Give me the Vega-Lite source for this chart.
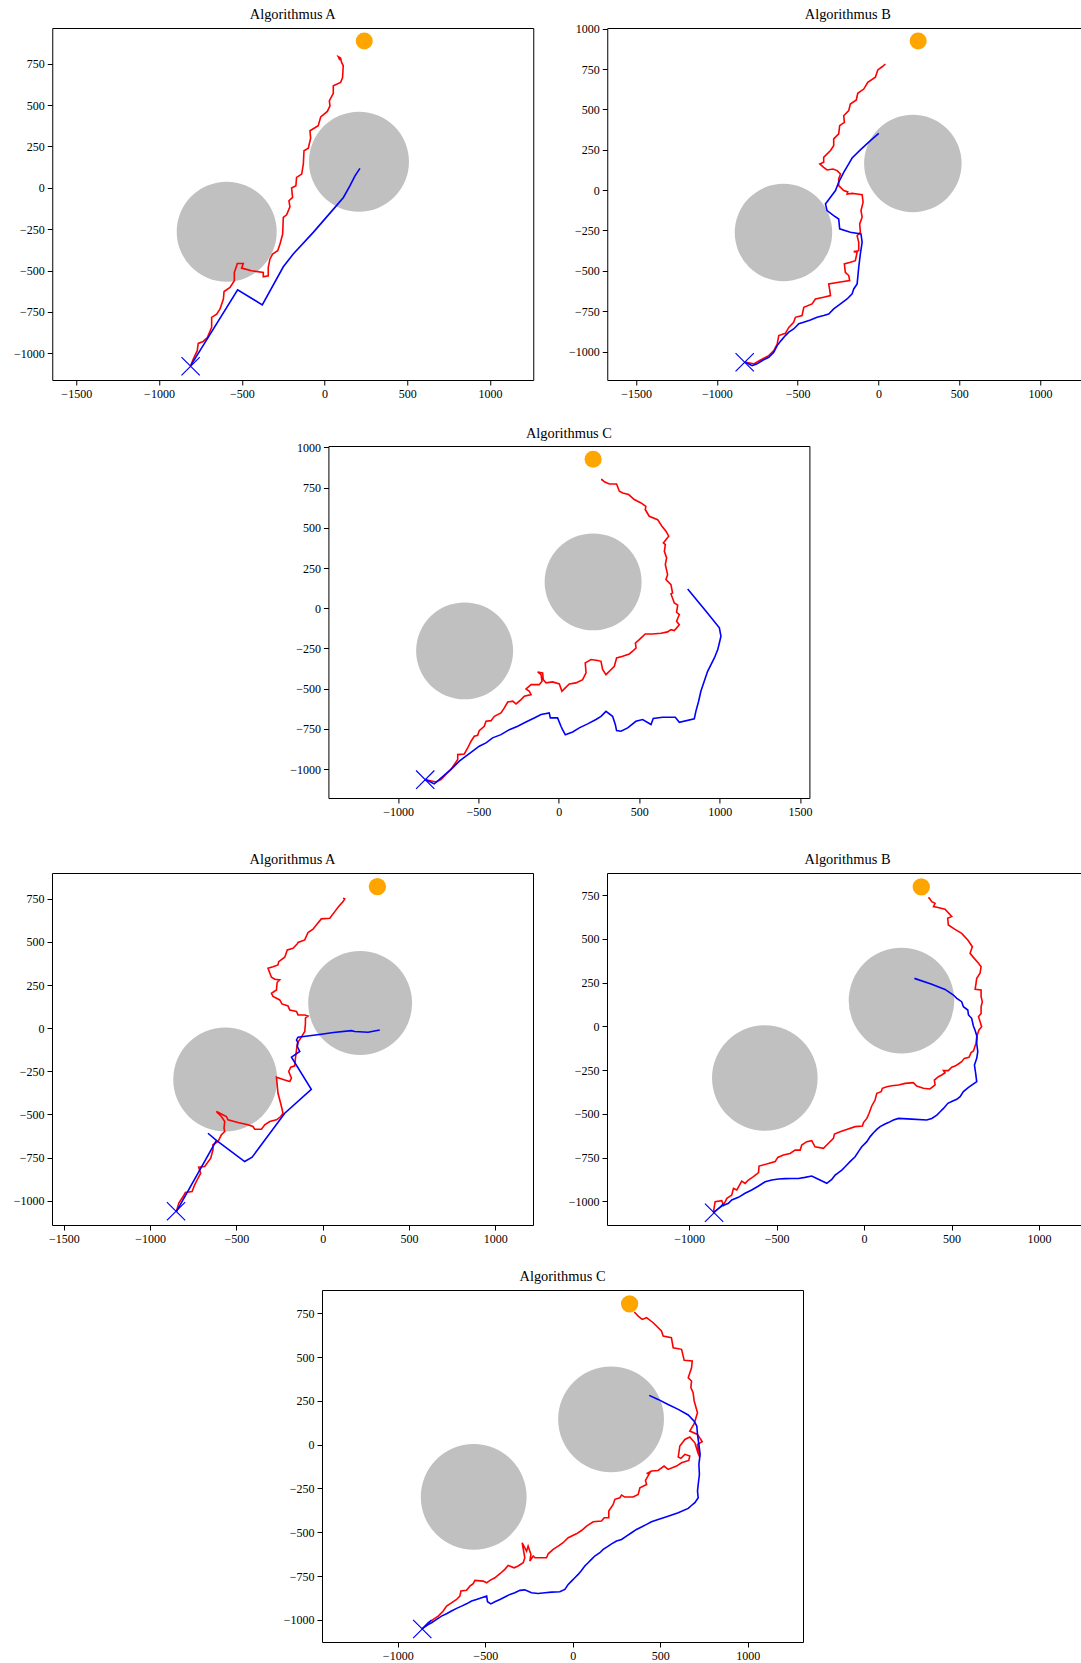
{
"$schema": "https://vega.github.io/schema/vega-lite/v6.json",
"padding": {"left": 12, "top": 6, "right": 0, "bottom": 0},
"background": "white",
"config": {
  "font": "Liberation Serif",
  "view": {"stroke": "black", "strokeWidth": 1},
  "axis": {"grid": false, "domain": false, "ticks": true, "tickColor": "black", "tickSize": 5, "tickWidth": 1, "labelFont": "Liberation Serif", "labelFontSize": 12, "labelColor": "black", "labelPadding": 3, "format": "d", "labelFlush": false, "labelOverlap": false},
  "title": {"font": "Liberation Serif", "fontSize": 14.4, "fontWeight": "normal", "color": "black", "offset": 6}
},
"datasets": {
"a1": [
{"k":"o","x":-591,"y":-265},{"k":"o","x":208,"y":158},
{"k":"r","x":-809,"y":-1075},{"k":"r","x":-793,"y":-1035},{"k":"r","x":-769,"y":-984},{"k":"r","x":-763,"y":-940},{"k":"r","x":-733,"y":-928},{"k":"r","x":-708,"y":-904},{"k":"r","x":-682,"y":-843},{"k":"r","x":-682,"y":-783},{"k":"r","x":-652,"y":-763},{"k":"r","x":-632,"y":-733},{"k":"r","x":-611,"y":-672},{"k":"r","x":-607,"y":-626},{"k":"r","x":-571,"y":-602},{"k":"r","x":-545,"y":-561},{"k":"r","x":-545,"y":-511},{"k":"r","x":-531,"y":-470},{"k":"r","x":-527,"y":-457},{"k":"r","x":-491,"y":-457},{"k":"r","x":-501,"y":-485},{"k":"r","x":-441,"y":-501},{"k":"r","x":-370,"y":-511},{"k":"r","x":-370,"y":-537},{"k":"r","x":-340,"y":-531},{"k":"r","x":-340,"y":-481},{"k":"r","x":-330,"y":-431},{"k":"r","x":-314,"y":-400},{"k":"r","x":-283,"y":-380},{"k":"r","x":-269,"y":-340},{"k":"r","x":-253,"y":-279},{"k":"r","x":-249,"y":-178},{"k":"r","x":-229,"y":-163},{"k":"r","x":-209,"y":-115},{"k":"r","x":-215,"y":-78},{"k":"r","x":-193,"y":-58},{"k":"r","x":-199,"y":-1},{"k":"r","x":-173,"y":13},{"k":"r","x":-169,"y":63},{"k":"r","x":-138,"y":83},{"k":"r","x":-128,"y":144},{"k":"r","x":-124,"y":224},{"k":"r","x":-98,"y":240},{"k":"r","x":-84,"y":300},{"k":"r","x":-88,"y":345},{"k":"r","x":-38,"y":375},{"k":"r","x":-23,"y":429},{"k":"r","x":17,"y":462},{"k":"r","x":33,"y":496},{"k":"r","x":29,"y":526},{"k":"r","x":53,"y":571},{"k":"r","x":53,"y":617},{"k":"r","x":97,"y":637},{"k":"r","x":109,"y":667},{"k":"r","x":113,"y":738},{"k":"r","x":103,"y":758},{"k":"r","x":97,"y":784},{"k":"r","x":83,"y":792},{"k":"r","x":93,"y":771},
{"k":"b","x":-806,"y":-1070},{"k":"b","x":-525,"y":-616},{"k":"b","x":-376,"y":-707},{"k":"b","x":-249,"y":-477},{"k":"b","x":-189,"y":-400},{"k":"b","x":-68,"y":-269},{"k":"b","x":63,"y":-118},{"k":"b","x":114,"y":-58},{"k":"b","x":154,"y":13},{"k":"b","x":184,"y":73},{"k":"b","x":214,"y":118},
{"k":"g","x":240,"y":887},{"k":"s","x":-809,"y":-1078}
],
"b1": [
{"k":"o","x":-588,"y":-263},{"k":"o","x":213,"y":165},
{"k":"r","x":-824,"y":-1066},{"k":"r","x":-772,"y":-1076},{"k":"r","x":-730,"y":-1052},{"k":"r","x":-679,"y":-1025},{"k":"r","x":-648,"y":-994},{"k":"r","x":-627,"y":-953},{"k":"r","x":-617,"y":-901},{"k":"r","x":-576,"y":-887},{"k":"r","x":-555,"y":-850},{"k":"r","x":-525,"y":-819},{"k":"r","x":-514,"y":-788},{"k":"r","x":-473,"y":-777},{"k":"r","x":-462,"y":-726},{"k":"r","x":-411,"y":-705},{"k":"r","x":-390,"y":-674},{"k":"r","x":-339,"y":-663},{"k":"r","x":-297,"y":-653},{"k":"r","x":-301,"y":-622},{"k":"r","x":-308,"y":-581},{"k":"r","x":-246,"y":-571},{"k":"r","x":-178,"y":-560},{"k":"r","x":-184,"y":-529},{"k":"r","x":-205,"y":-509},{"k":"r","x":-211,"y":-457},{"k":"r","x":-174,"y":-447},{"k":"r","x":-143,"y":-437},{"k":"r","x":-132,"y":-385},{"k":"r","x":-153,"y":-381},{"k":"r","x":-122,"y":-375},{"k":"r","x":-122,"y":-323},{"k":"r","x":-132,"y":-282},{"k":"r","x":-112,"y":-261},{"k":"r","x":-116,"y":-209},{"k":"r","x":-101,"y":-168},{"k":"r","x":-108,"y":-127},{"k":"r","x":-95,"y":-75},{"k":"r","x":-101,"y":-28},{"k":"r","x":-132,"y":-24},{"k":"r","x":-163,"y":-20},{"k":"r","x":-194,"y":-24},{"k":"r","x":-190,"y":-11},{"k":"r","x":-215,"y":-3},{"k":"r","x":-246,"y":28},{"k":"r","x":-246,"y":69},{"k":"r","x":-235,"y":100},{"k":"r","x":-256,"y":121},{"k":"r","x":-281,"y":131},{"k":"r","x":-318,"y":125},{"k":"r","x":-339,"y":141},{"k":"r","x":-363,"y":162},{"k":"r","x":-339,"y":172},{"k":"r","x":-339,"y":203},{"k":"r","x":-297,"y":245},{"k":"r","x":-277,"y":275},{"k":"r","x":-277,"y":317},{"k":"r","x":-246,"y":348},{"k":"r","x":-240,"y":399},{"k":"r","x":-211,"y":420},{"k":"r","x":-215,"y":461},{"k":"r","x":-184,"y":492},{"k":"r","x":-174,"y":533},{"k":"r","x":-137,"y":558},{"k":"r","x":-128,"y":600},{"k":"r","x":-91,"y":626},{"k":"r","x":-66,"y":668},{"k":"r","x":-19,"y":699},{"k":"r","x":-4,"y":744},{"k":"r","x":23,"y":764},{"k":"r","x":43,"y":781},
{"k":"b","x":-824,"y":-1066},{"k":"b","x":-782,"y":-1087},{"k":"b","x":-751,"y":-1076},{"k":"b","x":-714,"y":-1052},{"k":"b","x":-679,"y":-1035},{"k":"b","x":-648,"y":-1004},{"k":"b","x":-627,"y":-963},{"k":"b","x":-603,"y":-932},{"k":"b","x":-576,"y":-901},{"k":"b","x":-555,"y":-880},{"k":"b","x":-525,"y":-860},{"k":"b","x":-493,"y":-828},{"k":"b","x":-463,"y":-818},{"k":"b","x":-421,"y":-804},{"k":"b","x":-380,"y":-787},{"k":"b","x":-339,"y":-777},{"k":"b","x":-308,"y":-767},{"k":"b","x":-277,"y":-736},{"k":"b","x":-235,"y":-705},{"k":"b","x":-194,"y":-674},{"k":"b","x":-163,"y":-643},{"k":"b","x":-153,"y":-612},{"k":"b","x":-132,"y":-581},{"k":"b","x":-128,"y":-540},{"k":"b","x":-122,"y":-478},{"k":"b","x":-112,"y":-395},{"k":"b","x":-101,"y":-323},{"k":"b","x":-108,"y":-271},{"k":"b","x":-174,"y":-261},{"k":"b","x":-240,"y":-240},{"k":"b","x":-246,"y":-179},{"k":"b","x":-277,"y":-158},{"k":"b","x":-318,"y":-127},{"k":"b","x":-328,"y":-86},{"k":"b","x":-297,"y":-44},{"k":"b","x":-266,"y":-3},{"k":"b","x":-246,"y":49},{"k":"b","x":-215,"y":110},{"k":"b","x":-184,"y":162},{"k":"b","x":-163,"y":199},{"k":"b","x":-112,"y":249},{"k":"b","x":-50,"y":306},{"k":"b","x":2,"y":351},
{"k":"g","x":246,"y":924},{"k":"s","x":-828,"y":-1066}
],
"c2": [
{"k":"o","x":-586,"y":-265},{"k":"o","x":213,"y":164},
{"k":"r","x":-827,"y":-1066},{"k":"r","x":-764,"y":-1080},{"k":"r","x":-733,"y":-1066},{"k":"r","x":-703,"y":-1034},{"k":"r","x":-671,"y":-1003},{"k":"r","x":-650,"y":-972},{"k":"r","x":-629,"y":-941},{"k":"r","x":-629,"y":-910},{"k":"r","x":-588,"y":-906},{"k":"r","x":-567,"y":-869},{"k":"r","x":-546,"y":-827},{"k":"r","x":-526,"y":-796},{"k":"r","x":-505,"y":-790},{"k":"r","x":-495,"y":-761},{"k":"r","x":-464,"y":-734},{"k":"r","x":-453,"y":-703},{"k":"r","x":-422,"y":-699},{"k":"r","x":-401,"y":-672},{"k":"r","x":-360,"y":-651},{"k":"r","x":-339,"y":-620},{"k":"r","x":-318,"y":-583},{"k":"r","x":-287,"y":-578},{"k":"r","x":-266,"y":-595},{"k":"r","x":-235,"y":-568},{"k":"r","x":-215,"y":-547},{"k":"r","x":-173,"y":-537},{"k":"r","x":-184,"y":-516},{"k":"r","x":-204,"y":-502},{"k":"r","x":-173,"y":-475},{"k":"r","x":-122,"y":-475},{"k":"r","x":-105,"y":-454},{"k":"r","x":-111,"y":-413},{"k":"r","x":-132,"y":-396},{"k":"r","x":-101,"y":-402},{"k":"r","x":-97,"y":-444},{"k":"r","x":-80,"y":-464},{"k":"r","x":-39,"y":-458},{"k":"r","x":3,"y":-471},{"k":"r","x":19,"y":-516},{"k":"r","x":40,"y":-495},{"k":"r","x":65,"y":-471},{"k":"r","x":106,"y":-464},{"k":"r","x":148,"y":-444},{"k":"r","x":169,"y":-402},{"k":"r","x":164,"y":-340},{"k":"r","x":200,"y":-319},{"k":"r","x":241,"y":-325},{"k":"r","x":262,"y":-330},{"k":"r","x":272,"y":-381},{"k":"r","x":293,"y":-413},{"k":"r","x":314,"y":-392},{"k":"r","x":345,"y":-361},{"k":"r","x":359,"y":-309},{"k":"r","x":397,"y":-299},{"k":"r","x":438,"y":-284},{"k":"r","x":459,"y":-267},{"k":"r","x":480,"y":-247},{"k":"r","x":476,"y":-216},{"k":"r","x":500,"y":-195},{"k":"r","x":537,"y":-160},{"k":"r","x":583,"y":-160},{"k":"r","x":635,"y":-155},{"k":"r","x":676,"y":-147},{"k":"r","x":697,"y":-133},{"k":"r","x":718,"y":-139},{"k":"r","x":749,"y":-102},{"k":"r","x":732,"y":-81},{"k":"r","x":749,"y":-39},{"k":"r","x":732,"y":-25},{"k":"r","x":739,"y":19},{"k":"r","x":718,"y":33},{"k":"r","x":697,"y":89},{"k":"r","x":707,"y":95},{"k":"r","x":697,"y":147},{"k":"r","x":666,"y":178},{"k":"r","x":676,"y":209},{"k":"r","x":662,"y":272},{"k":"r","x":670,"y":313},{"k":"r","x":656,"y":354},{"k":"r","x":662,"y":396},{"k":"r","x":650,"y":406},{"k":"r","x":683,"y":448},{"k":"r","x":666,"y":479},{"k":"r","x":641,"y":510},{"k":"r","x":614,"y":551},{"k":"r","x":562,"y":572},{"k":"r","x":537,"y":614},{"k":"r","x":541,"y":634},{"k":"r","x":511,"y":655},{"k":"r","x":469,"y":676},{"k":"r","x":434,"y":707},{"k":"r","x":397,"y":717},{"k":"r","x":376,"y":728},{"k":"r","x":359,"y":773},{"k":"r","x":314,"y":773},{"k":"r","x":283,"y":786},{"k":"r","x":268,"y":800},{"k":"r","x":262,"y":800},
{"k":"b","x":-827,"y":-1066},{"k":"b","x":-775,"y":-1092},{"k":"b","x":-744,"y":-1066},{"k":"b","x":-703,"y":-1030},{"k":"b","x":-661,"y":-993},{"k":"b","x":-619,"y":-951},{"k":"b","x":-578,"y":-920},{"k":"b","x":-536,"y":-889},{"k":"b","x":-495,"y":-858},{"k":"b","x":-453,"y":-837},{"k":"b","x":-412,"y":-806},{"k":"b","x":-360,"y":-786},{"k":"b","x":-308,"y":-755},{"k":"b","x":-256,"y":-734},{"k":"b","x":-205,"y":-707},{"k":"b","x":-153,"y":-682},{"k":"b","x":-111,"y":-661},{"k":"b","x":-60,"y":-651},{"k":"b","x":-53,"y":-682},{"k":"b","x":-8,"y":-682},{"k":"b","x":13,"y":-734},{"k":"b","x":23,"y":-755},{"k":"b","x":40,"y":-786},{"k":"b","x":86,"y":-769},{"k":"b","x":127,"y":-744},{"k":"b","x":179,"y":-719},{"k":"b","x":231,"y":-692},{"k":"b","x":262,"y":-672},{"k":"b","x":293,"y":-641},{"k":"b","x":334,"y":-672},{"k":"b","x":351,"y":-723},{"k":"b","x":359,"y":-761},{"k":"b","x":386,"y":-765},{"k":"b","x":428,"y":-744},{"k":"b","x":479,"y":-703},{"k":"b","x":521,"y":-692},{"k":"b","x":573,"y":-723},{"k":"b","x":587,"y":-686},{"k":"b","x":645,"y":-678},{"k":"b","x":724,"y":-678},{"k":"b","x":749,"y":-709},{"k":"b","x":842,"y":-688},{"k":"b","x":852,"y":-641},{"k":"b","x":869,"y":-578},{"k":"b","x":883,"y":-516},{"k":"b","x":904,"y":-454},{"k":"b","x":925,"y":-392},{"k":"b","x":946,"y":-350},{"k":"b","x":967,"y":-309},{"k":"b","x":988,"y":-257},{"k":"b","x":998,"y":-216},{"k":"b","x":1008,"y":-174},{"k":"b","x":998,"y":-122},{"k":"b","x":915,"y":-19},{"k":"b","x":801,"y":120},
{"k":"g","x":213,"y":927},{"k":"s","x":-831,"y":-1066}
],
"a3": [
{"k":"o","x":-565,"y":-297},{"k":"o","x":217,"y":146},
{"k":"r","x":-848,"y":-1063},{"k":"r","x":-834,"y":-1014},{"k":"r","x":-809,"y":-976},{"k":"r","x":-796,"y":-953},{"k":"r","x":-757,"y":-947},{"k":"r","x":-742,"y":-908},{"k":"r","x":-723,"y":-870},{"k":"r","x":-707,"y":-841},{"k":"r","x":-719,"y":-806},{"k":"r","x":-684,"y":-802},{"k":"r","x":-649,"y":-754},{"k":"r","x":-636,"y":-705},{"k":"r","x":-636,"y":-676},{"k":"r","x":-607,"y":-657},{"k":"r","x":-587,"y":-618},{"k":"r","x":-568,"y":-599},{"k":"r","x":-572,"y":-580},{"k":"r","x":-568,"y":-541},{"k":"r","x":-587,"y":-512},{"k":"r","x":-607,"y":-493},{"k":"r","x":-616,"y":-483},{"k":"r","x":-558,"y":-512},{"k":"r","x":-549,"y":-531},{"k":"r","x":-491,"y":-547},{"k":"r","x":-433,"y":-560},{"k":"r","x":-404,"y":-570},{"k":"r","x":-394,"y":-586},{"k":"r","x":-355,"y":-586},{"k":"r","x":-336,"y":-560},{"k":"r","x":-307,"y":-541},{"k":"r","x":-268,"y":-531},{"k":"r","x":-243,"y":-512},{"k":"r","x":-230,"y":-493},{"k":"r","x":-239,"y":-454},{"k":"r","x":-259,"y":-377},{"k":"r","x":-268,"y":-284},{"k":"r","x":-220,"y":-300},{"k":"r","x":-191,"y":-309},{"k":"r","x":-181,"y":-290},{"k":"r","x":-197,"y":-251},{"k":"r","x":-185,"y":-226},{"k":"r","x":-162,"y":-218},{"k":"r","x":-158,"y":-174},{"k":"r","x":-153,"y":-135},{"k":"r","x":-147,"y":-87},{"k":"r","x":-124,"y":-52},{"k":"r","x":-104,"y":-19},{"k":"r","x":-100,"y":29},{"k":"r","x":-100,"y":58},{"k":"r","x":-85,"y":71},{"k":"r","x":-104,"y":77},{"k":"r","x":-143,"y":77},{"k":"r","x":-152,"y":97},{"k":"r","x":-191,"y":106},{"k":"r","x":-201,"y":129},{"k":"r","x":-236,"y":141},{"k":"r","x":-249,"y":164},{"k":"r","x":-288,"y":184},{"k":"r","x":-297,"y":203},{"k":"r","x":-268,"y":222},{"k":"r","x":-264,"y":265},{"k":"r","x":-249,"y":280},{"k":"r","x":-278,"y":284},{"k":"r","x":-297,"y":296},{"k":"r","x":-317,"y":348},{"k":"r","x":-288,"y":357},{"k":"r","x":-259,"y":367},{"k":"r","x":-255,"y":386},{"k":"r","x":-220,"y":412},{"k":"r","x":-205,"y":454},{"k":"r","x":-172,"y":464},{"k":"r","x":-147,"y":489},{"k":"r","x":-143,"y":497},{"k":"r","x":-104,"y":512},{"k":"r","x":-85,"y":555},{"k":"r","x":-56,"y":574},{"k":"r","x":-37,"y":599},{"k":"r","x":-8,"y":634},{"k":"r","x":41,"y":638},{"k":"r","x":70,"y":676},{"k":"r","x":89,"y":701},{"k":"r","x":118,"y":734},{"k":"r","x":128,"y":750},{"k":"r","x":118,"y":754},
{"k":"b","x":-848,"y":-1063},{"k":"b","x":-616,"y":-651},{"k":"b","x":-665,"y":-609},{"k":"b","x":-616,"y":-651},{"k":"b","x":-452,"y":-773},{"k":"b","x":-409,"y":-748},{"k":"b","x":-220,"y":-493},{"k":"b","x":-66,"y":-354},{"k":"b","x":-181,"y":-168},{"k":"b","x":-133,"y":-135},{"k":"b","x":-147,"y":-106},{"k":"b","x":-143,"y":-83},{"k":"b","x":-152,"y":-68},{"k":"b","x":-143,"y":-52},{"k":"b","x":-8,"y":-35},{"k":"b","x":62,"y":-25},{"k":"b","x":166,"y":-14},{"k":"b","x":186,"y":-19},{"k":"b","x":263,"y":-23},{"k":"b","x":331,"y":-10},
{"k":"g","x":317,"y":821},{"k":"s","x":-850,"y":-1061}
],
"b3": [
{"k":"o","x":-567,"y":-295},{"k":"o","x":214,"y":147},
{"k":"r","x":-861,"y":-1063},{"k":"r","x":-851,"y":-1002},{"k":"r","x":-813,"y":-996},{"k":"r","x":-803,"y":-1021},{"k":"r","x":-784,"y":-983},{"k":"r","x":-756,"y":-964},{"k":"r","x":-746,"y":-926},{"k":"r","x":-727,"y":-935},{"k":"r","x":-699,"y":-884},{"k":"r","x":-680,"y":-897},{"k":"r","x":-661,"y":-878},{"k":"r","x":-632,"y":-859},{"k":"r","x":-603,"y":-836},{"k":"r","x":-600,"y":-798},{"k":"r","x":-556,"y":-787},{"k":"r","x":-508,"y":-773},{"k":"r","x":-493,"y":-749},{"k":"r","x":-461,"y":-735},{"k":"r","x":-423,"y":-726},{"k":"r","x":-394,"y":-707},{"k":"r","x":-365,"y":-707},{"k":"r","x":-356,"y":-678},{"k":"r","x":-327,"y":-659},{"k":"r","x":-299,"y":-653},{"k":"r","x":-280,"y":-688},{"k":"r","x":-232,"y":-697},{"k":"r","x":-213,"y":-678},{"k":"r","x":-175,"y":-640},{"k":"r","x":-169,"y":-615},{"k":"r","x":-137,"y":-602},{"k":"r","x":-99,"y":-589},{"k":"r","x":-51,"y":-573},{"k":"r","x":-9,"y":-570},{"k":"r","x":-3,"y":-550},{"k":"r","x":16,"y":-526},{"k":"r","x":29,"y":-497},{"k":"r","x":44,"y":-455},{"k":"r","x":63,"y":-421},{"k":"r","x":73,"y":-383},{"k":"r","x":98,"y":-373},{"k":"r","x":105,"y":-354},{"k":"r","x":130,"y":-345},{"k":"r","x":159,"y":-339},{"k":"r","x":197,"y":-335},{"k":"r","x":235,"y":-326},{"k":"r","x":282,"y":-322},{"k":"r","x":301,"y":-341},{"k":"r","x":339,"y":-354},{"k":"r","x":377,"y":-358},{"k":"r","x":406,"y":-335},{"k":"r","x":402,"y":-307},{"k":"r","x":425,"y":-288},{"k":"r","x":444,"y":-278},{"k":"r","x":463,"y":-265},{"k":"r","x":454,"y":-253},{"k":"r","x":482,"y":-253},{"k":"r","x":501,"y":-234},{"k":"r","x":520,"y":-227},{"k":"r","x":539,"y":-215},{"k":"r","x":558,"y":-202},{"k":"r","x":573,"y":-183},{"k":"r","x":600,"y":-177},{"k":"r","x":612,"y":-150},{"k":"r","x":625,"y":-141},{"k":"r","x":640,"y":-97},{"k":"r","x":644,"y":-59},{"k":"r","x":657,"y":-21},{"k":"r","x":672,"y":-2},{"k":"r","x":663,"y":27},{"k":"r","x":654,"y":55},{"k":"r","x":669,"y":74},{"k":"r","x":669,"y":112},{"k":"r","x":676,"y":141},{"k":"r","x":669,"y":170},{"k":"r","x":669,"y":208},{"k":"r","x":635,"y":211},{"k":"r","x":640,"y":246},{"k":"r","x":644,"y":274},{"k":"r","x":663,"y":303},{"k":"r","x":669,"y":341},{"k":"r","x":654,"y":360},{"k":"r","x":625,"y":394},{"k":"r","x":606,"y":417},{"k":"r","x":619,"y":455},{"k":"r","x":593,"y":493},{"k":"r","x":558,"y":531},{"k":"r","x":520,"y":554},{"k":"r","x":482,"y":579},{"k":"r","x":478,"y":617},{"k":"r","x":501,"y":627},{"k":"r","x":463,"y":669},{"k":"r","x":416,"y":680},{"k":"r","x":397,"y":684},{"k":"r","x":406,"y":703},{"k":"r","x":387,"y":712},{"k":"r","x":374,"y":731},{"k":"r","x":368,"y":737},
{"k":"b","x":-861,"y":-1063},{"k":"b","x":-813,"y":-1027},{"k":"b","x":-775,"y":-1011},{"k":"b","x":-756,"y":-992},{"k":"b","x":-718,"y":-977},{"k":"b","x":-680,"y":-954},{"k":"b","x":-642,"y":-935},{"k":"b","x":-603,"y":-912},{"k":"b","x":-565,"y":-888},{"k":"b","x":-527,"y":-878},{"k":"b","x":-489,"y":-872},{"k":"b","x":-451,"y":-870},{"k":"b","x":-413,"y":-869},{"k":"b","x":-375,"y":-869},{"k":"b","x":-337,"y":-863},{"k":"b","x":-299,"y":-855},{"k":"b","x":-261,"y":-874},{"k":"b","x":-213,"y":-897},{"k":"b","x":-184,"y":-874},{"k":"b","x":-165,"y":-850},{"k":"b","x":-146,"y":-836},{"k":"b","x":-127,"y":-821},{"k":"b","x":-108,"y":-802},{"k":"b","x":-80,"y":-773},{"k":"b","x":-51,"y":-745},{"k":"b","x":-32,"y":-716},{"k":"b","x":-13,"y":-688},{"k":"b","x":16,"y":-659},{"k":"b","x":35,"y":-630},{"k":"b","x":54,"y":-608},{"k":"b","x":73,"y":-589},{"k":"b","x":92,"y":-573},{"k":"b","x":120,"y":-558},{"k":"b","x":139,"y":-550},{"k":"b","x":168,"y":-535},{"k":"b","x":197,"y":-526},{"k":"b","x":273,"y":-530},{"k":"b","x":358,"y":-535},{"k":"b","x":387,"y":-526},{"k":"b","x":416,"y":-507},{"k":"b","x":435,"y":-488},{"k":"b","x":454,"y":-469},{"k":"b","x":479,"y":-440},{"k":"b","x":501,"y":-430},{"k":"b","x":530,"y":-417},{"k":"b","x":549,"y":-402},{"k":"b","x":568,"y":-373},{"k":"b","x":597,"y":-349},{"k":"b","x":644,"y":-316},{"k":"b","x":638,"y":-269},{"k":"b","x":631,"y":-221},{"k":"b","x":644,"y":-183},{"k":"b","x":650,"y":-145},{"k":"b","x":644,"y":-97},{"k":"b","x":646,"y":-59},{"k":"b","x":634,"y":-21},{"k":"b","x":625,"y":2},{"k":"b","x":615,"y":46},{"k":"b","x":597,"y":65},{"k":"b","x":593,"y":93},{"k":"b","x":568,"y":112},{"k":"b","x":558,"y":141},{"k":"b","x":530,"y":160},{"k":"b","x":511,"y":179},{"k":"b","x":463,"y":211},{"k":"b","x":387,"y":240},{"k":"b","x":288,"y":274},
{"k":"g","x":327,"y":797},{"k":"s","x":-857,"y":-1065}
],
"c4": [
{"k":"o","x":-566,"y":-298},{"k":"o","x":219,"y":145},
{"k":"r","x":-860,"y":-1051},{"k":"r","x":-826,"y":-1017},{"k":"r","x":-797,"y":-998},{"k":"r","x":-769,"y":-979},{"k":"r","x":-740,"y":-950},{"k":"r","x":-721,"y":-922},{"k":"r","x":-693,"y":-903},{"k":"r","x":-664,"y":-884},{"k":"r","x":-645,"y":-865},{"k":"r","x":-639,"y":-836},{"k":"r","x":-607,"y":-832},{"k":"r","x":-588,"y":-808},{"k":"r","x":-569,"y":-794},{"k":"r","x":-559,"y":-775},{"k":"r","x":-512,"y":-779},{"k":"r","x":-492,"y":-789},{"k":"r","x":-473,"y":-775},{"k":"r","x":-445,"y":-760},{"k":"r","x":-416,"y":-737},{"k":"r","x":-388,"y":-712},{"k":"r","x":-369,"y":-690},{"k":"r","x":-335,"y":-703},{"k":"r","x":-312,"y":-693},{"k":"r","x":-283,"y":-674},{"k":"r","x":-274,"y":-646},{"k":"r","x":-289,"y":-560},{"k":"r","x":-264,"y":-608},{"k":"r","x":-255,"y":-579},{"k":"r","x":-239,"y":-627},{"k":"r","x":-245,"y":-665},{"k":"r","x":-226,"y":-636},{"k":"r","x":-216,"y":-646},{"k":"r","x":-150,"y":-646},{"k":"r","x":-140,"y":-623},{"k":"r","x":-112,"y":-598},{"k":"r","x":-83,"y":-579},{"k":"r","x":-55,"y":-560},{"k":"r","x":-26,"y":-531},{"k":"r","x":21,"y":-509},{"k":"r","x":50,"y":-490},{"k":"r","x":79,"y":-465},{"k":"r","x":117,"y":-440},{"k":"r","x":164,"y":-436},{"k":"r","x":180,"y":-417},{"k":"r","x":206,"y":-417},{"k":"r","x":206,"y":-379},{"k":"r","x":231,"y":-341},{"k":"r","x":241,"y":-312},{"k":"r","x":269,"y":-303},{"k":"r","x":279,"y":-288},{"k":"r","x":298,"y":-299},{"k":"r","x":345,"y":-299},{"k":"r","x":374,"y":-284},{"k":"r","x":384,"y":-246},{"k":"r","x":422,"y":-227},{"k":"r","x":416,"y":-204},{"k":"r","x":441,"y":-160},{"k":"r","x":422,"y":-166},{"k":"r","x":450,"y":-150},{"k":"r","x":488,"y":-147},{"k":"r","x":522,"y":-122},{"k":"r","x":545,"y":-141},{"k":"r","x":593,"y":-122},{"k":"r","x":622,"y":-103},{"k":"r","x":663,"y":-90},{"k":"r","x":669,"y":-65},{"k":"r","x":641,"y":-55},{"k":"r","x":618,"y":-78},{"k":"r","x":603,"y":-70},{"k":"r","x":612,"y":-8},{"k":"r","x":641,"y":30},{"k":"r","x":669,"y":44},{"k":"r","x":698,"y":11},{"k":"r","x":717,"y":-51},{"k":"r","x":726,"y":-70},{"k":"r","x":713,"y":2},{"k":"r","x":740,"y":17},{"k":"r","x":713,"y":59},{"k":"r","x":669,"y":78},{"k":"r","x":694,"y":120},{"k":"r","x":713,"y":183},{"k":"r","x":694,"y":250},{"k":"r","x":688,"y":297},{"k":"r","x":675,"y":326},{"k":"r","x":679,"y":364},{"k":"r","x":660,"y":383},{"k":"r","x":679,"y":440},{"k":"r","x":683,"y":478},{"k":"r","x":637,"y":482},{"k":"r","x":622,"y":545},{"k":"r","x":574,"y":554},{"k":"r","x":564,"y":611},{"k":"r","x":517,"y":621},{"k":"r","x":507,"y":650},{"k":"r","x":460,"y":697},{"k":"r","x":422,"y":726},{"k":"r","x":397,"y":716},{"k":"r","x":374,"y":735},{"k":"r","x":352,"y":758},
{"k":"b","x":-860,"y":-1051},{"k":"b","x":-826,"y":-1027},{"k":"b","x":-807,"y":-1017},{"k":"b","x":-778,"y":-998},{"k":"b","x":-750,"y":-979},{"k":"b","x":-721,"y":-966},{"k":"b","x":-693,"y":-950},{"k":"b","x":-664,"y":-935},{"k":"b","x":-635,"y":-922},{"k":"b","x":-607,"y":-909},{"k":"b","x":-578,"y":-893},{"k":"b","x":-550,"y":-884},{"k":"b","x":-521,"y":-874},{"k":"b","x":-492,"y":-865},{"k":"b","x":-487,"y":-897},{"k":"b","x":-468,"y":-909},{"k":"b","x":-445,"y":-897},{"k":"b","x":-416,"y":-884},{"k":"b","x":-388,"y":-870},{"k":"b","x":-359,"y":-855},{"k":"b","x":-331,"y":-846},{"k":"b","x":-302,"y":-832},{"k":"b","x":-274,"y":-829},{"k":"b","x":-236,"y":-846},{"k":"b","x":-198,"y":-850},{"k":"b","x":-159,"y":-846},{"k":"b","x":-121,"y":-842},{"k":"b","x":-74,"y":-840},{"k":"b","x":-45,"y":-827},{"k":"b","x":-26,"y":-798},{"k":"b","x":-7,"y":-779},{"k":"b","x":12,"y":-760},{"k":"b","x":31,"y":-741},{"k":"b","x":50,"y":-718},{"k":"b","x":69,"y":-693},{"k":"b","x":88,"y":-674},{"k":"b","x":107,"y":-655},{"k":"b","x":126,"y":-636},{"k":"b","x":155,"y":-617},{"k":"b","x":174,"y":-598},{"k":"b","x":203,"y":-579},{"k":"b","x":222,"y":-566},{"k":"b","x":250,"y":-550},{"k":"b","x":279,"y":-541},{"k":"b","x":307,"y":-522},{"k":"b","x":336,"y":-503},{"k":"b","x":364,"y":-484},{"k":"b","x":393,"y":-470},{"k":"b","x":422,"y":-455},{"k":"b","x":450,"y":-440},{"k":"b","x":488,"y":-427},{"k":"b","x":545,"y":-408},{"k":"b","x":603,"y":-389},{"k":"b","x":660,"y":-364},{"k":"b","x":675,"y":-350},{"k":"b","x":698,"y":-331},{"k":"b","x":717,"y":-303},{"k":"b","x":713,"y":-265},{"k":"b","x":717,"y":-227},{"k":"b","x":724,"y":-170},{"k":"b","x":721,"y":-112},{"k":"b","x":728,"y":-55},{"k":"b","x":721,"y":2},{"k":"b","x":713,"y":59},{"k":"b","x":709,"y":107},{"k":"b","x":694,"y":135},{"k":"b","x":660,"y":170},{"k":"b","x":603,"y":202},{"k":"b","x":545,"y":230},{"k":"b","x":488,"y":259},{"k":"b","x":437,"y":282},
{"k":"g","x":325,"y":805},{"k":"s","x":-860,"y":-1053}
]
},
"vconcat": [
 {"vconcat": [
   {"hconcat": [
     {"title": "Algorithmus A", "width": 481, "height": 352, "data": {"name": "a1"},
      "encoding": {"x": {"field": "x", "type": "quantitative", "title": null, "scale": {"domain": [-1645, 1261], "nice": false, "zero": false}, "axis": {"values": [-1500,-1000,-500,0,500,1000]}},
                   "y": {"field": "y", "type": "quantitative", "title": null, "scale": {"domain": [-1161, 966], "nice": false, "zero": false}, "axis": {"values": [-1000,-750,-500,-250,0,250,500,750]}}},
      "layer": [
        {"transform": [{"filter": "datum.k=='o'"}], "mark": {"type": "point", "shape": "circle", "filled": true, "color": "#c0c0c0", "opacity": 1, "size": 10000}},
        {"transform": [{"filter": "datum.k=='r'"}], "mark": {"type": "line", "color": "#ff0000", "strokeWidth": 1.6}, "encoding": {"order": {"value": null}}},
        {"transform": [{"filter": "datum.k=='b'"}], "mark": {"type": "line", "color": "#0000ff", "strokeWidth": 1.6}, "encoding": {"order": {"value": null}}},
        {"transform": [{"filter": "datum.k=='g'"}], "mark": {"type": "point", "shape": "circle", "filled": true, "color": "#ffa500", "opacity": 1, "size": 290}},
        {"transform": [{"filter": "datum.k=='s'"}], "mark": {"type": "point", "shape": "M-1,-1L1,1M-1,1L1,-1", "filled": false, "color": "#0000ff", "strokeWidth": 1.2, "opacity": 1, "size": 335}}
      ]},
     {"title": {"text": "Algorithmus B", "offset": 0}, "width": 481, "height": 352, "data": {"name": "b1"},
      "encoding": {"x": {"field": "x", "type": "quantitative", "title": null, "scale": {"domain": [-1679, 1299], "nice": false, "zero": false}, "axis": {"values": [-1500,-1000,-500,0,500,1000]}},
                   "y": {"field": "y", "type": "quantitative", "title": null, "scale": {"domain": [-1176, 1004], "nice": false, "zero": false}, "axis": {"values": [-1000,-750,-500,-250,0,250,500,750,1000]}}},
      "layer": [
        {"transform": [{"filter": "datum.k=='o'"}], "mark": {"type": "point", "shape": "circle", "filled": true, "color": "#c0c0c0", "opacity": 1, "size": 9500}},
        {"transform": [{"filter": "datum.k=='r'"}], "mark": {"type": "line", "color": "#ff0000", "strokeWidth": 1.6}, "encoding": {"order": {"value": null}}},
        {"transform": [{"filter": "datum.k=='b'"}], "mark": {"type": "line", "color": "#0000ff", "strokeWidth": 1.6}, "encoding": {"order": {"value": null}}},
        {"transform": [{"filter": "datum.k=='g'"}], "mark": {"type": "point", "shape": "circle", "filled": true, "color": "#ffa500", "opacity": 1, "size": 290}},
        {"transform": [{"filter": "datum.k=='s'"}], "mark": {"type": "point", "shape": "M-1,-1L1,1M-1,1L1,-1", "filled": false, "color": "#0000ff", "strokeWidth": 1.2, "opacity": 1, "size": 335}}
      ]}
   ], "spacing": 33},
   {"title": {"text": "Algorithmus C", "offset": 0}, "width": 481, "height": 352, "data": {"name": "c2"},
    "encoding": {"x": {"field": "x", "type": "quantitative", "title": null, "scale": {"domain": [-1433, 1558], "nice": false, "zero": false}, "axis": {"values": [-1000,-500,0,500,1000,1500]}},
                 "y": {"field": "y", "type": "quantitative", "title": null, "scale": {"domain": [-1180, 1009], "nice": false, "zero": false}, "axis": {"values": [-1000,-750,-500,-250,0,250,500,750,1000]}}},
    "layer": [
      {"transform": [{"filter": "datum.k=='o'"}], "mark": {"type": "point", "shape": "circle", "filled": true, "color": "#c0c0c0", "opacity": 1, "size": 9400}},
      {"transform": [{"filter": "datum.k=='r'"}], "mark": {"type": "line", "color": "#ff0000", "strokeWidth": 1.6}, "encoding": {"order": {"value": null}}},
      {"transform": [{"filter": "datum.k=='b'"}], "mark": {"type": "line", "color": "#0000ff", "strokeWidth": 1.6}, "encoding": {"order": {"value": null}}},
      {"transform": [{"filter": "datum.k=='g'"}], "mark": {"type": "point", "shape": "circle", "filled": true, "color": "#ffa500", "opacity": 1, "size": 290}},
      {"transform": [{"filter": "datum.k=='s'"}], "mark": {"type": "point", "shape": "M-1,-1L1,1M-1,1L1,-1", "filled": false, "color": "#0000ff", "strokeWidth": 1.2, "opacity": 1, "size": 335}}
    ]}
 ], "spacing": 25, "center": true},
 {"vconcat": [
   {"hconcat": [
     {"title": "Algorithmus A", "width": 481, "height": 352, "data": {"name": "a3"},
      "encoding": {"x": {"field": "x", "type": "quantitative", "title": null, "scale": {"domain": [-1569, 1219], "nice": false, "zero": false}, "axis": {"values": [-1500,-1000,-500,0,500,1000]}},
                   "y": {"field": "y", "type": "quantitative", "title": null, "scale": {"domain": [-1141, 900], "nice": false, "zero": false}, "axis": {"values": [-1000,-750,-500,-250,0,250,500,750]}}},
      "layer": [
        {"transform": [{"filter": "datum.k=='o'"}], "mark": {"type": "point", "shape": "circle", "filled": true, "color": "#c0c0c0", "opacity": 1, "size": 10800}},
        {"transform": [{"filter": "datum.k=='r'"}], "mark": {"type": "line", "color": "#ff0000", "strokeWidth": 1.6}, "encoding": {"order": {"value": null}}},
        {"transform": [{"filter": "datum.k=='b'"}], "mark": {"type": "line", "color": "#0000ff", "strokeWidth": 1.6}, "encoding": {"order": {"value": null}}},
        {"transform": [{"filter": "datum.k=='g'"}], "mark": {"type": "point", "shape": "circle", "filled": true, "color": "#ffa500", "opacity": 1, "size": 300}},
        {"transform": [{"filter": "datum.k=='s'"}], "mark": {"type": "point", "shape": "M-1,-1L1,1M-1,1L1,-1", "filled": false, "color": "#0000ff", "strokeWidth": 1.2, "opacity": 1, "size": 335}}
      ]},
     {"title": "Algorithmus B", "width": 481, "height": 352, "data": {"name": "b3"},
      "encoding": {"x": {"field": "x", "type": "quantitative", "title": null, "scale": {"domain": [-1469, 1280], "nice": false, "zero": false}, "axis": {"values": [-1000,-500,0,500,1000]}},
                   "y": {"field": "y", "type": "quantitative", "title": null, "scale": {"domain": [-1135, 876], "nice": false, "zero": false}, "axis": {"values": [-1000,-750,-500,-250,0,250,500,750]}}},
      "layer": [
        {"transform": [{"filter": "datum.k=='o'"}], "mark": {"type": "point", "shape": "circle", "filled": true, "color": "#c0c0c0", "opacity": 1, "size": 11150}},
        {"transform": [{"filter": "datum.k=='r'"}], "mark": {"type": "line", "color": "#ff0000", "strokeWidth": 1.6}, "encoding": {"order": {"value": null}}},
        {"transform": [{"filter": "datum.k=='b'"}], "mark": {"type": "line", "color": "#0000ff", "strokeWidth": 1.6}, "encoding": {"order": {"value": null}}},
        {"transform": [{"filter": "datum.k=='g'"}], "mark": {"type": "point", "shape": "circle", "filled": true, "color": "#ffa500", "opacity": 1, "size": 300}},
        {"transform": [{"filter": "datum.k=='s'"}], "mark": {"type": "point", "shape": "M-1,-1L1,1M-1,1L1,-1", "filled": false, "color": "#0000ff", "strokeWidth": 1.2, "opacity": 1, "size": 335}}
      ]}
   ], "spacing": 33},
   {"hconcat": [
     {"width": 230, "height": 10, "data": {"values": []}, "mark": "point", "encoding": {}, "view": {"stroke": null}},
     {"title": "Algorithmus C", "width": 481, "height": 352, "data": {"name": "c4"},
      "encoding": {"x": {"field": "x", "type": "quantitative", "title": null, "scale": {"domain": [-1433, 1316], "nice": false, "zero": false}, "axis": {"values": [-1000,-500,0,500,1000]}},
                   "y": {"field": "y", "type": "quantitative", "title": null, "scale": {"domain": [-1127, 884], "nice": false, "zero": false}, "axis": {"values": [-1000,-750,-500,-250,0,250,500,750]}}},
      "layer": [
        {"transform": [{"filter": "datum.k=='o'"}], "mark": {"type": "point", "shape": "circle", "filled": true, "color": "#c0c0c0", "opacity": 1, "size": 11200}},
        {"transform": [{"filter": "datum.k=='r'"}], "mark": {"type": "line", "color": "#ff0000", "strokeWidth": 1.6}, "encoding": {"order": {"value": null}}},
        {"transform": [{"filter": "datum.k=='b'"}], "mark": {"type": "line", "color": "#0000ff", "strokeWidth": 1.6}, "encoding": {"order": {"value": null}}},
        {"transform": [{"filter": "datum.k=='g'"}], "mark": {"type": "point", "shape": "circle", "filled": true, "color": "#ffa500", "opacity": 1, "size": 300}},
        {"transform": [{"filter": "datum.k=='s'"}], "mark": {"type": "point", "shape": "M-1,-1L1,1M-1,1L1,-1", "filled": false, "color": "#0000ff", "strokeWidth": 1.2, "opacity": 1, "size": 335}}
      ]}
   ], "spacing": 0}
 ], "spacing": 23}
],
"spacing": 33
}
